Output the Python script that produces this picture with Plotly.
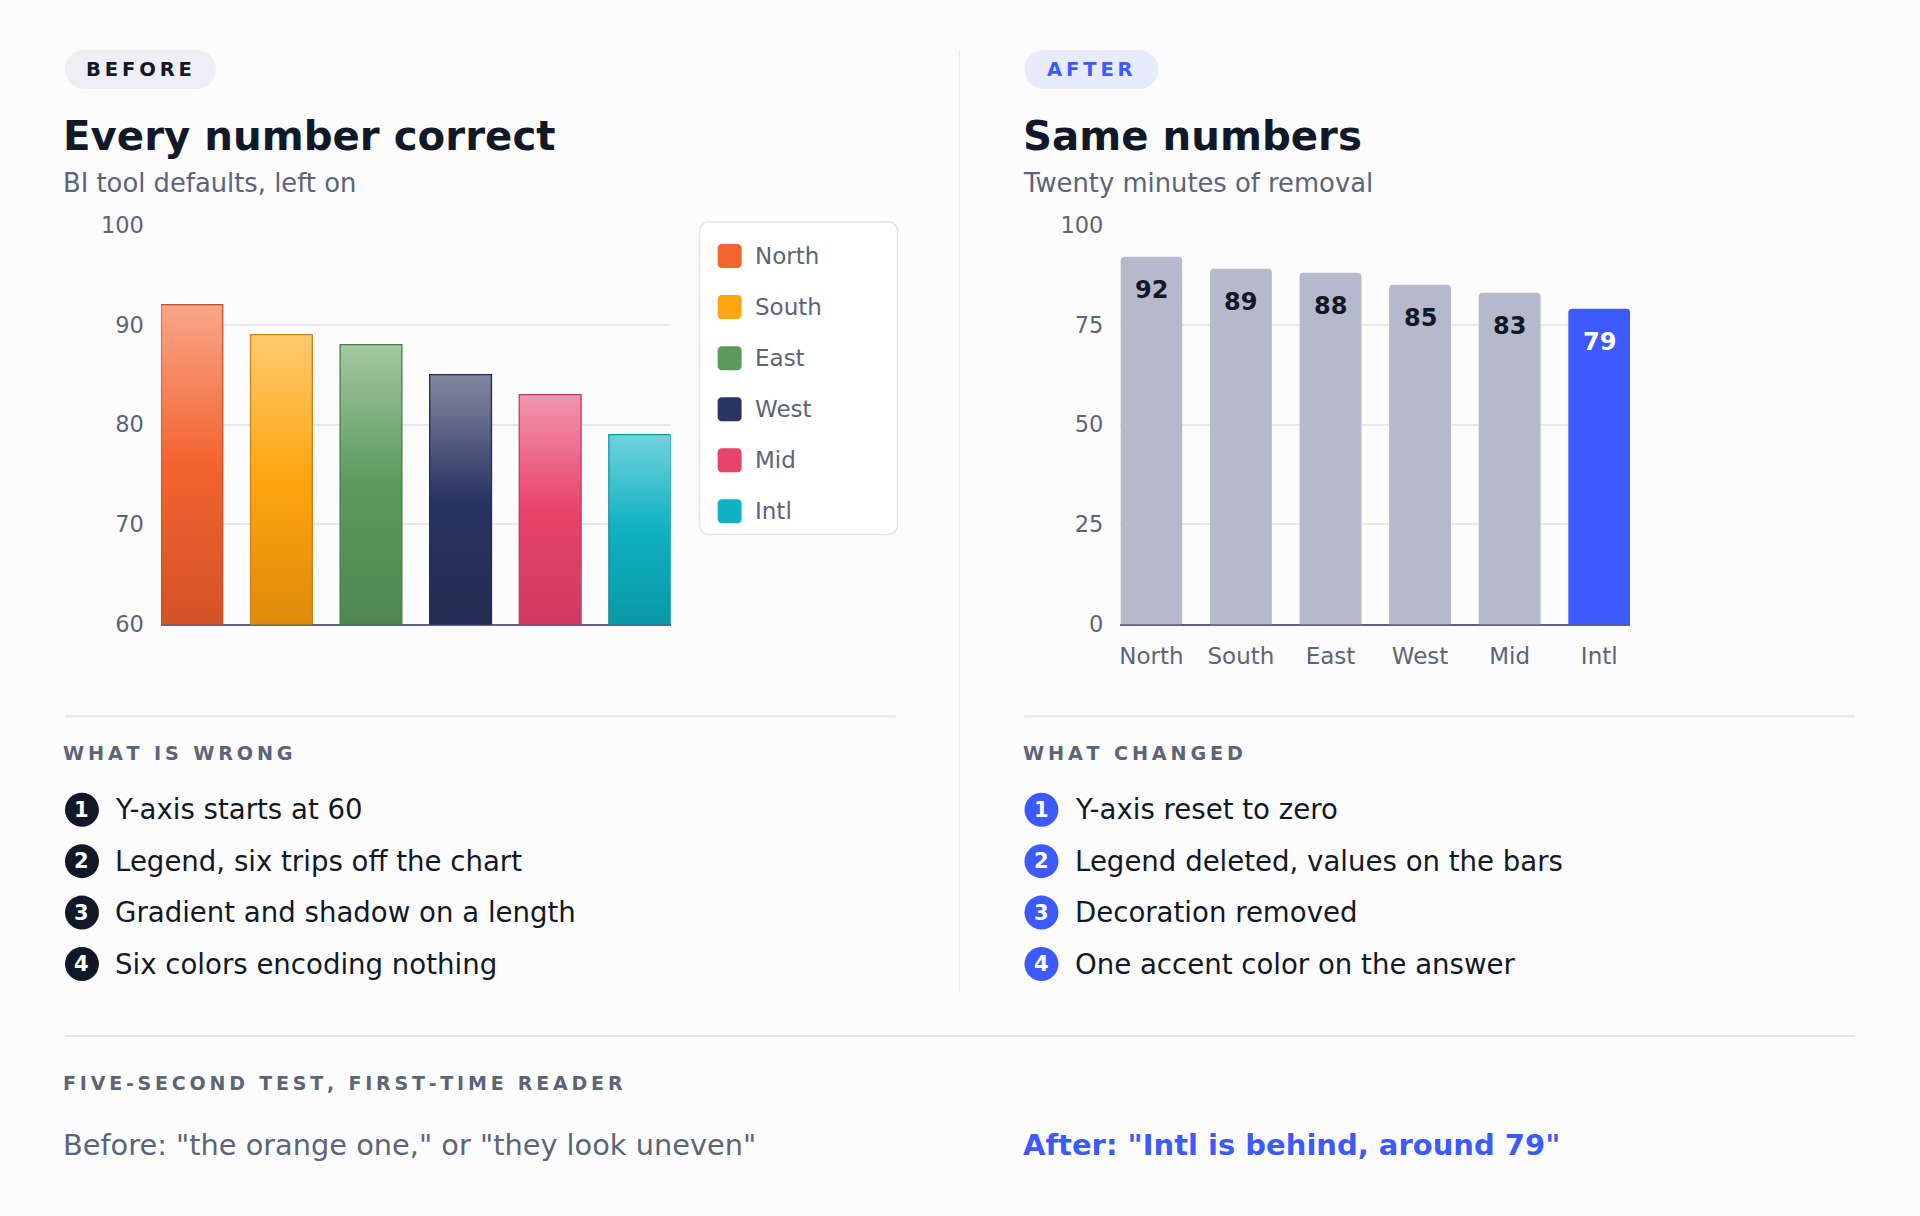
import plotly.graph_objects as go

# data
regions = ["North", "South", "East", "West", "Mid", "Intl"]
scores = [92, 89, 88, 85, 83, 79]
before_ticks = [60, 70, 80, 90, 100]
after_ticks = [0, 25, 50, 75, 100]

# gradient colours per bar (bottom, middle, top, outline)
grad_bottom = ["#d35227", "#de8a0a", "#4f8650", "#252b52", "#cf3a60", "#0a98a5"]
grad_mid = ["#f26430", "#ffa510", "#5b9a5c", "#2b3462", "#e8436b", "#0fb1c2"]
grad_top = ["#f8a689", "#ffc96f", "#a4c8a2", "#83889f", "#f396ae", "#70d3dc"]
grad_edge = ["#bf4f28", "#c98419", "#4a7c4b", "#232a55", "#b8405f", "#0e95a2"]
legend_colors = ["#f26430", "#ffa510", "#5b9a5c", "#2b3462", "#e8436b", "#0fb1c2"]

accent_region = "Intl"

wrong_items = ["Y-axis starts at 60", "Legend, six trips off the chart",
               "Gradient and shadow on a length", "Six colors encoding nothing"]
changed_items = ["Y-axis reset to zero", "Legend deleted, values on the bars",
                 "Decoration removed", "One accent color on the answer"]

W, H = 1920, 1216
BG = "#fcfcfd"
INK = "#111827"
GREY = "#5b6478"
BLUE = "#3d5afe"
BAR_GREY = "#b6b9cb"
GRID = "#e6e7ef"
RULE = "#e3e5ee"
FONT = "DejaVu Sans"
BAR_W = 0.69

# the photo comes out slightly squeezed vertically; place things so they land right
SHIFT, SQUEEZE = 12.0, 0.9796
TEXT_PAD = 3.5  # annotation boxes add a little padding on the left


def px(x):
    return x / W


def py(y):
    return 1 - ((y - SHIFT) / SQUEEZE) / H


def spaced(s):
    return "\u2009".join(s)


def round_rect(x0, y0, x1, y1, r):
    k = 0.5523 * r
    pts = [
        f"M{px(x0 + r)},{py(y0)}", f"L{px(x1 - r)},{py(y0)}",
        f"C{px(x1 - r + k)},{py(y0)} {px(x1)},{py(y0 + r - k)} {px(x1)},{py(y0 + r)}",
        f"L{px(x1)},{py(y1 - r)}",
        f"C{px(x1)},{py(y1 - r + k)} {px(x1 - r + k)},{py(y1)} {px(x1 - r)},{py(y1)}",
        f"L{px(x0 + r)},{py(y1)}",
        f"C{px(x0 + r - k)},{py(y1)} {px(x0)},{py(y1 - r + k)} {px(x0)},{py(y1 - r)}",
        f"L{px(x0)},{py(y0 + r)}",
        f"C{px(x0)},{py(y0 + r - k)} {px(x0 + r - k)},{py(y0)} {px(x0 + r)},{py(y0)}",
        "Z",
    ]
    return " ".join(pts)


def label(x, y, text, size, color, bold=False, anchor="left"):
    if anchor == "left":
        x -= TEXT_PAD
    return dict(x=px(x), y=py(y), xref="paper", yref="paper", text=text,
                showarrow=False, xanchor=anchor, yanchor="middle",
                font=dict(family=FONT, size=size, color=color, weight=700 if bold else 400))


fig = go.Figure()

# BEFORE: gradient bars drawn as filled polygons on a numeric axis
floor = before_ticks[0]
for i, (name, v) in enumerate(zip(regions, scores)):
    x0, x1 = i - BAR_W / 2, i + BAR_W / 2
    fig.add_trace(go.Scatter(
        x=[x0, x0, x1, x1, x0], y=[floor, v, v, floor, floor],
        mode="lines", fill="toself",
        fillgradient=dict(type="vertical",
                          colorscale=[[0, grad_bottom[i]], [0.5, grad_mid[i]], [1, grad_top[i]]]),
        line=dict(color=grad_edge[i], width=1.3),
        name=name, showlegend=False, hoverinfo="skip",
        xaxis="x", yaxis="y",
    ))

# AFTER: plain bars, one accent
after_colors = [BLUE if r == accent_region else BAR_GREY for r in regions]
fig.add_trace(go.Bar(
    x=regions, y=scores, marker=dict(color=after_colors, line=dict(width=0)),
    width=BAR_W, showlegend=False, hoverinfo="skip", xaxis="x2", yaxis="y2",
))

annotations = []
shapes = []

for r, v in zip(regions, scores):
    annotations.append(dict(
        x=r, y=v, xref="x2", yref="y2", text=str(v), showarrow=False,
        yanchor="middle", yshift=-33,
        font=dict(family=FONT, size=24, weight=700,
                  color="white" if r == accent_region else INK),
    ))

# hand-built legend for the BEFORE chart
shapes.append(dict(type="path", xref="paper", yref="paper",
                   path=round_rect(699, 221, 897, 534, 9),
                   fillcolor="#ffffff", line=dict(color="#e2e3ec", width=1.5), layer="below"))
for k, (name, c) in enumerate(zip(regions, legend_colors)):
    cy = 255.3 + k * 51.1
    shapes.append(dict(type="path", xref="paper", yref="paper",
                       path=round_rect(717, cy - 12, 741, cy + 12, 4),
                       fillcolor=c, line=dict(width=0)))
    annotations.append(label(756, cy, name, 23, GREY))

# pills
shapes.append(dict(type="path", xref="paper", yref="paper",
                   path=round_rect(64, 49, 215, 88, 19.5), fillcolor="#eeeef4",
                   line=dict(width=0), layer="below"))
shapes.append(dict(type="path", xref="paper", yref="paper",
                   path=round_rect(1024, 49, 1158, 88, 19.5), fillcolor="#e8ebfd",
                   line=dict(width=0), layer="below"))
annotations.append(label(87, 68.5, spaced("BEFORE"), 19.5, INK, bold=True))
annotations.append(label(1048, 68.5, spaced("AFTER"), 19.5, BLUE, bold=True))

# titles & subtitles
for x, t, s in [(64, "Every number correct", "BI tool defaults, left on"),
                (1024, "Same numbers", "Twenty minutes of removal")]:
    annotations.append(label(x, 136, t, 40.3, INK, bold=True))
    annotations.append(label(x, 182, s, 25.8, GREY))

# rules
shapes += [
    dict(type="line", xref="paper", yref="paper", x0=px(959), x1=px(959), y0=py(49), y1=py(992),
         line=dict(color="#e8e9f0", width=1.2)),
    dict(type="line", xref="paper", yref="paper", x0=px(64), x1=px(895), y0=py(716), y1=py(716),
         line=dict(color=RULE, width=2)),
    dict(type="line", xref="paper", yref="paper", x0=px(1024), x1=px(1855), y0=py(716), y1=py(716),
         line=dict(color=RULE, width=2)),
    dict(type="line", xref="paper", yref="paper", x0=px(64), x1=px(1855), y0=py(1036), y1=py(1036),
         line=dict(color=RULE, width=2)),
]

# numbered lists
row_y = [809.5, 861, 912.5, 964]
for x, head, items, dot in [(64, "WHAT IS WRONG", wrong_items, INK),
                            (1024, "WHAT CHANGED", changed_items, BLUE)]:
    annotations.append(label(x, 753, spaced(head), 19.2, GREY, bold=True))
    for n, (item, y) in enumerate(zip(items, row_y), start=1):
        shapes.append(dict(type="circle", xref="paper", yref="paper",
                           x0=px(x), x1=px(x + 34), y0=py(y - 17), y1=py(y + 17),
                           fillcolor=dot, line=dict(width=0)))
        annotations.append(label(x + 17, y, str(n), 21, "white", bold=True, anchor="center"))
        annotations.append(label(x + 52, y, item, 27.6, INK))

# five-second test
annotations.append(label(64, 1083, spaced("FIVE-SECOND TEST, FIRST-TIME READER"), 19, GREY, bold=True))
annotations.append(label(64, 1145, 'Before: "the orange one," or "they look uneven"', 28.8, GREY))
annotations.append(label(1024, 1145, 'After: "Intl is behind, around 79"', 29, BLUE, bold=True))

ydom = [py(624), py(224)]
axis_line = dict(showline=True, linecolor="#5e6180", linewidth=2, zeroline=False,
                 showgrid=False, ticks="", layer="below traces", fixedrange=True)
yaxis_common = dict(showline=False, zeroline=False, gridcolor=GRID, gridwidth=1.5,
                    ticks="", ticklabelstandoff=16, fixedrange=True,
                    tickfont=dict(family=FONT, size=22.5, color=GREY))

fig.update_layout(
    width=W, height=H, margin=dict(l=0, r=0, t=0, b=0),
    paper_bgcolor=BG, plot_bgcolor="rgba(0,0,0,0)",
    barcornerradius=4, showlegend=False,
    xaxis=dict(domain=[px(160), px(670)], range=[-BAR_W / 2, len(regions) - 1 + BAR_W / 2],
               showticklabels=False, **axis_line),
    yaxis=dict(domain=ydom, range=[before_ticks[0], before_ticks[-1]],
               tickvals=before_ticks, **yaxis_common),
    xaxis2=dict(domain=[px(1120), px(1630)], range=[-BAR_W / 2, len(regions) - 1 + BAR_W / 2],
                type="category", categoryorder="array", categoryarray=regions,
                ticklabelstandoff=10,
                tickfont=dict(family=FONT, size=23, color=GREY), anchor="y2", **axis_line),
    yaxis2=dict(domain=ydom, range=[after_ticks[0], after_ticks[-1]],
                tickvals=after_ticks, anchor="x2", **yaxis_common),
    annotations=annotations, shapes=shapes,
    font=dict(family=FONT),
)

pin_page = (
    "document.body.style.margin='0';"
    "document.body.style.overflow='hidden';"
    "var gd=document.getElementById('{plot_id}');"
    "gd.style.position='fixed';gd.style.top='0';gd.style.left='0';"
)
fig.write_html("out.html", config={"displayModeBar": False}, post_script=pin_page)
